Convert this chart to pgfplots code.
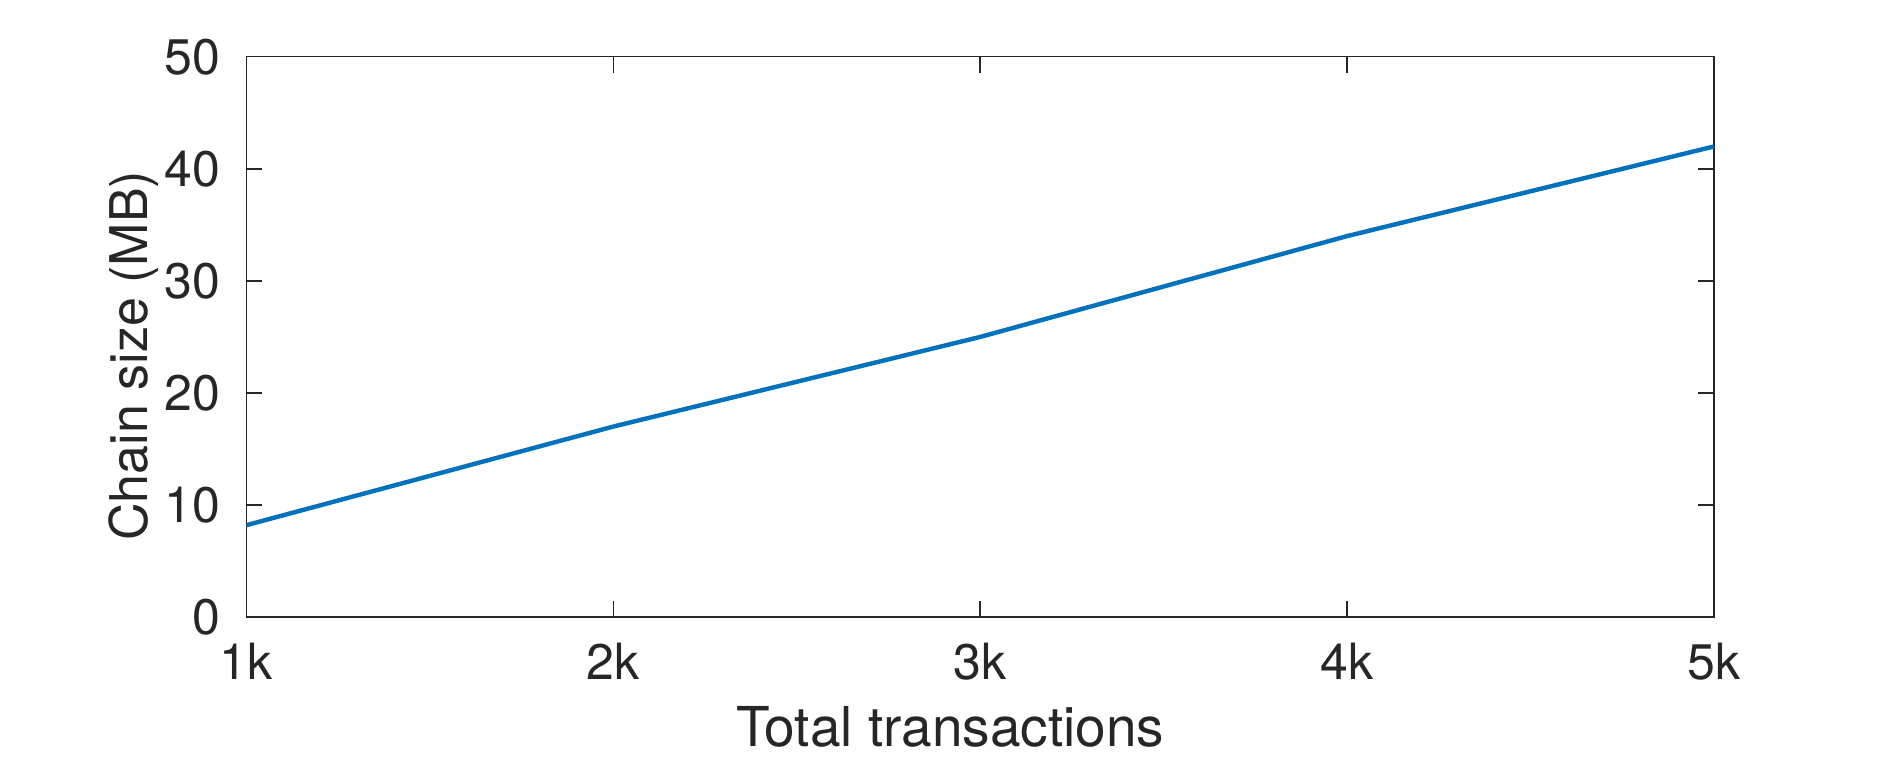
\documentclass[border=0pt]{standalone}
\usepackage{fontspec}
\setmainfont{TeX Gyre Heros}
\usepackage{pgfplots}
\pgfplotsset{compat=1.18}
\definecolor{mblue}{RGB}{0,114,189}
\definecolor{mgray}{RGB}{38,38,38}
\begin{document}
\begin{tikzpicture}
\path[use as bounding box] (-123.2pt,-71.9pt) rectangle (824pt,308.6pt);
\begin{axis}[
  scale only axis,
  width=734pt, height=280.2pt,
  at={(0,0)}, anchor=south west,
  xmin=1000, xmax=5000, ymin=0, ymax=50,
  xtick={1000,2000,3000,4000,5000},
  xticklabels={1k,2k,3k,4k,5k},
  ytick={0,10,20,30,40,50},
  yticklabels={0,10,20,30,40,50},
  /pgf/number format/assume math mode=true,
  tick align=inside,
  major tick length=8pt,
  axis line style={mgray, line width=0.7pt},
  tick style={mgray, line width=0.7pt},
  every tick label/.append style={font=\fontsize{25}{30}\selectfont, text=mgray},
  xticklabel style={anchor=base, inner sep=0pt, yshift=-31.4pt},
  yticklabel style={anchor=east, inner sep=0pt, xshift=-12.8pt},
  xlabel={Total transactions},
  ylabel={Chain size (MB)},
  label style={text=mgray},
  xlabel style={font=\fontsize{27.5}{33}\selectfont, at={(axis description cs:0.4796,-0.2311)}, anchor=base, inner sep=0pt},
  ylabel style={font=\fontsize{26}{31}\selectfont, at={(axis description cs:-0.0674,0.4664)}, anchor=base, rotate=0, inner sep=0pt},
]
\addplot[mblue, line width=2.2pt] coordinates {
  (1000,8.2) (2000,17.0) (3000,25.0) (4000,34.0) (5000,42.0)
};
\end{axis}
\end{tikzpicture}
\end{document}
